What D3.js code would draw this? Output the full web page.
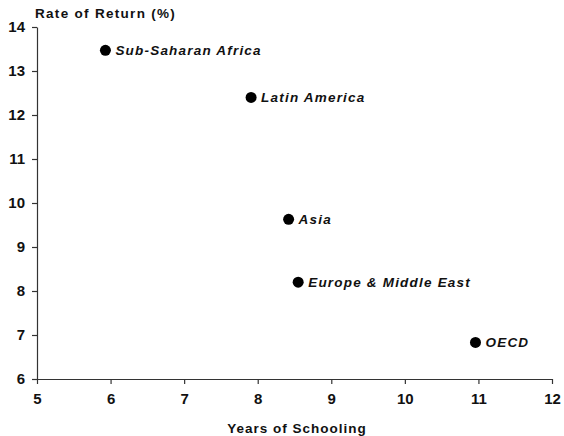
<!DOCTYPE html>
<html lang="en">
<head>
<meta charset="UTF-8">
<title>Rate of Return vs Years of Schooling</title>
<script src="https://cdnjs.cloudflare.com/ajax/libs/d3/7.8.5/d3.min.js"></script>
<style>
  body { margin: 0; background: #fff; }
  svg text { font-family: "Liberation Sans", Arial, sans-serif; font-weight: bold; fill: #111; }
</style>
</head>
<body>
<div id="chart"></div>
<script>
// data
var regions = ["Sub-Saharan Africa", "Latin America", "Asia", "Europe & Middle East", "OECD"];
var schooling = [5.93, 7.91, 8.42, 8.55, 10.96];
var returns = [13.47, 12.4, 9.63, 8.2, 6.83];
var xTicks = [5, 6, 7, 8, 9, 10, 11, 12];
var yTicks = [6, 7, 8, 9, 10, 11, 12, 13, 14];

var width = 564, height = 436;
var margin = { top: 27, right: 12, bottom: 57, left: 37 };

var svg = d3.select("#chart").append("svg")
    .attr("width", width)
    .attr("height", height);

var x = d3.scaleLinear().domain([5, 12]).range([margin.left, width - margin.right]);
var y = d3.scaleLinear().domain([6, 14]).range([height - margin.bottom, margin.top]);

var xAxis = svg.append("g")
    .attr("transform", "translate(0," + y(6) + ")")
    .call(d3.axisBottom(x).tickValues(xTicks).tickFormat(d3.format("d"))
        .tickSize(5).tickPadding(9).tickSizeOuter(0));
var yAxis = svg.append("g")
    .attr("transform", "translate(" + x(5) + ",0)")
    .call(d3.axisLeft(y).tickValues(yTicks).tickFormat(d3.format("d"))
        .tickSize(5).tickPadding(7).tickSizeOuter(0));

[xAxis, yAxis].forEach(function (g) {
    g.selectAll(".domain").attr("stroke", "#333").attr("stroke-width", 1.2);
    g.selectAll(".tick line").attr("stroke", "#333").attr("stroke-width", 1.2);
    g.selectAll(".tick text").style("font-size", "15px").style("font-family", "Liberation Sans, Arial, sans-serif").style("font-weight", "bold");
});

var pts = regions.map(function (r, i) { return { name: r, sx: schooling[i], r: returns[i] }; });

svg.selectAll("circle.pt").data(pts).enter().append("circle")
    .attr("class", "pt")
    .attr("cx", function (d) { return x(d.sx); })
    .attr("cy", function (d) { return y(d.r); })
    .attr("r", 5.5)
    .attr("fill", "#000");

svg.selectAll("text.lbl").data(pts).enter().append("text")
    .attr("class", "lbl")
    .attr("x", function (d) { return x(d.sx) + 10; })
    .attr("y", function (d) { return y(d.r) + 5; })
    .style("font-size", "13.5px")
    .style("font-style", "italic")
    .style("letter-spacing", "1.2px")
    .text(function (d) { return d.name; });

// axis titles
svg.append("text")
    .attr("x", 35)
    .attr("y", 18)
    .style("font-size", "13.5px")
    .style("letter-spacing", "1.3px")
    .text("Rate of Return (%)");

svg.append("text")
    .attr("x", 297)
    .attr("y", 433)
    .attr("text-anchor", "middle")
    .style("font-size", "13.5px")
    .style("letter-spacing", "1px")
    .text("Years of Schooling");
</script>
</body>
</html>
